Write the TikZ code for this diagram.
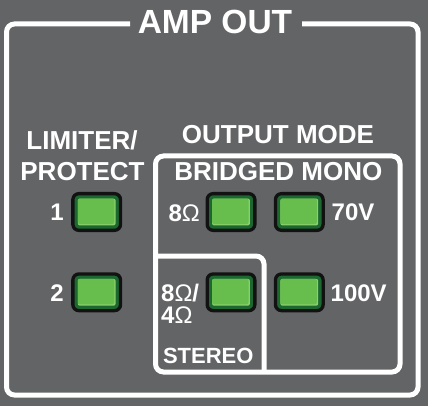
\documentclass[tikz,border=0pt]{standalone}
\usepackage{fontspec}
\setmainfont{Liberation Sans}
\definecolor{panel}{RGB}{99,100,102}
\definecolor{ledblack}{RGB}{18,18,18}
\definecolor{leddark}{RGB}{28,104,48}
\definecolor{ledlight}{RGB}{104,190,76}
\definecolor{ledhi}{RGB}{138,208,108}
\newcommand\ohmsym{{\mdseries Ω}}
\begin{document}
\begin{tikzpicture}[x=1pt,y=-1pt,
  frame/.style={draw=white, line width=5pt, rounded corners=8pt},
  title/.style={text=white, inner sep=0pt, font=\bfseries\fontsize{33.5}{36}\selectfont},
  head/.style={text=white, inner sep=0pt, font=\bfseries\fontsize{26}{28}\selectfont},
  lab/.style={text=white, inner sep=0pt, font=\bfseries\fontsize{24}{26}\selectfont},
  small/.style={text=white, inner sep=0pt, font=\bfseries\fontsize{22}{24}\selectfont},
  led/.style={draw=ledblack, line width=3.3pt, fill=leddark, rounded corners=6pt,
    minimum width=47.7pt, minimum height=36.7pt, inner sep=0pt,
    path picture={
      \fill[ledhi, rounded corners=2pt]
        ([shift={(4.95pt,4.95pt)}]path picture bounding box.south west) rectangle
        ([shift={(-4.95pt,-4.95pt)}]path picture bounding box.north east);
      \fill[ledlight, rounded corners=2pt]
        ([shift={(4.95pt,6.3pt)}]path picture bounding box.south west) rectangle
        ([shift={(-6.3pt,-4.95pt)}]path picture bounding box.north east);
    }}
]
\fill[panel] (0,0) rectangle (428,406);
\useasboundingbox (0,0) rectangle (428,406);

% outer frame with title gap
\draw[frame] (130,24) -- (6.5,24) -- (6.5,395) -- (418,395) -- (418,24) -- (302,24);
\node[title, anchor=base] (amp) at (215,34) {AMP OUT};

% output mode box and stereo sub-box
\draw[frame] (155.5,156) rectangle (400,372);
\draw[frame] (155.5,256) -- (264,256) -- (264,372);

% headings
\node[head, anchor=base] (lim) at (82,149.3) {LIMITER/};
\node[head, anchor=base] (prot) at (82.5,181) {PROTECT};
\node[head, anchor=base] (om) at (278,143.3) {OUTPUT MODE};
\node[head, anchor=base] (bm) at (278.3,180.7) {BRIDGED MONO};

% LEDs
\node[led] (led1) at (96.7,212) {};
\node[led] (led2) at (96.7,292.3) {};
\node[led] (led8) at (231,212) {};
\node[led] (led70) at (299.3,212) {};
\node[led] (led84) at (231,292.3) {};
\node[led] (led100) at (299.3,292.3) {};

% labels
\node[lab, anchor=base east] (t1) at (64,220.5) {1};
\node[lab, anchor=base east] (t2) at (64,301) {2};
\node[lab, anchor=base east] (t8) at (200,221) {8\ohmsym};
\node[lab, anchor=base west] (t70) at (331.5,220.5) {70V};
\node[lab, anchor=base west] (t84a) at (161,301.5) {8\ohmsym/};
\node[lab, anchor=base west] (t84b) at (161,323.5) {4\ohmsym};
\node[lab, anchor=base west] (t100) at (330.5,301.5) {100V};
\node[small, anchor=base] (st) at (208.3,363.3) {STEREO};
\end{tikzpicture}
\end{document}
